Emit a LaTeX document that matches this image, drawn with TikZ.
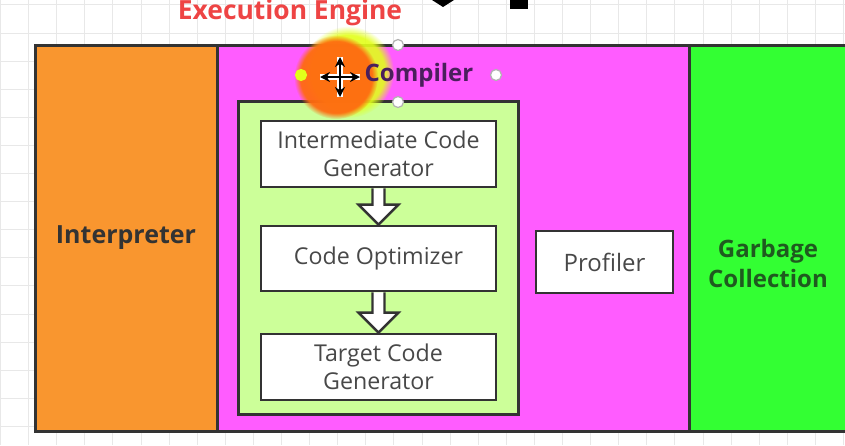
\documentclass[tikz,border=0pt]{standalone}
\usepackage{fontspec}
\setmainfont{Open Sans}
\usetikzlibrary{calc,arrows.meta,fadings}
\definecolor{frame}{HTML}{333333}
\definecolor{interp}{HTML}{F9962F}
\definecolor{engine}{HTML}{FF5CFF}
\definecolor{jitbox}{HTML}{CCFF99}
\definecolor{gcol}{HTML}{33FF33}
\definecolor{gridc}{HTML}{E8E8E8}
\definecolor{boxtext}{HTML}{484848}
\definecolor{titlered}{HTML}{EE4444}
\definecolor{comptext}{HTML}{4A1F5C}
\definecolor{gctext}{HTML}{1F5A1F}
\definecolor{glowyel}{HTML}{E2FF1A}
\definecolor{gloworg}{HTML}{FF6A10}
\begin{document}
\begin{tikzpicture}
    [x=0.5pt,y=-0.5pt,
     col/.style={draw=frame,line width=1.5pt,inner sep=0pt,minimum height=193pt},
     stage/.style={draw=frame,fill=white,line width=1.4pt,inner sep=0pt,align=center,
       text=boxtext,font=\fontsize{11.6}{14}\selectfont,minimum width=117.5pt,minimum height=33pt},
     hollow/.style={draw=frame,fill=white,line width=1.2pt,line join=miter},
     bold/.style={font=\bfseries\fontsize{12}{15}\selectfont},
     handle/.style={circle,draw=gray!60,fill=white,line width=0.6pt,minimum size=5.5pt,inner sep=0pt}]
    \useasboundingbox (0,0) rectangle (845,445);
    \clip (0,0) rectangle (845,445);
    % grid
    \foreach \i in {0,...,30}
      \draw[gridc,line width=0.5pt] (28.1*\i+0.5,0) -- (28.1*\i+0.5,445);
    \foreach \j in {0,...,16}
      \draw[gridc,line width=0.5pt] (0,28.1*\j+4.9) -- (845,28.1*\j+4.9);
    \fill (432,0) -- (443,7) -- (454,0) -- cycle;
    \fill (510,0) rectangle (528,9);
    % columns
    \node [col,fill=interp,minimum width=91pt,text=frame,font=\bfseries\fontsize{12.5}{15}\selectfont] (Int) at (126,238) {Interpreter};
    \node [col,fill=engine,minimum width=236pt] (EE) at (453,238) {};
    \node [col,fill=gcol,minimum width=90.5pt] (GC) at (779.5,238) {};
    \node [text=gctext,bold,align=center] (GCt) at (768,263) {Garbage\\Collection};
    \node [text=titlered,font=\bfseries\fontsize{13.2}{15}\selectfont] (EEt) at (290,13) {Execution Engine};
    % compiler
    \node [draw=frame,fill=jitbox,line width=1.5pt,minimum width=140pt,minimum height=156.5pt] (CC) at (378,257.5) {};
    \node [stage] (icg) at (378.5,154) {Intermediate Code\\Generator};
    \node [stage,minimum height=32.5pt] (opt) at (378.5,258.5) {Code Optimizer};
    \node [stage] (tcg) at (378.5,367) {Target Code\\Generator};
    \node [stage,minimum width=68.5pt,minimum height=31pt,font=\fontsize{12}{14}\selectfont] (prof) at (604.5,262) {Profiler};
    \foreach \a/\b in {icg/opt,opt/tcg}
      \draw [hollow] ($(\a.south)+(-6,0)$) -- ($(\b.north)+(-6,-20)$) -- ($(\b.north)+(-20,-20)$)
        -- (\b.north) -- ($(\b.north)+(20,-20)$) -- ($(\b.north)+(6,-20)$) -- ($(\a.south)+(6,0)$);
    % cursor glow
    \fill [glowyel,opacity=0.9,path fading=circle with fuzzy edge 20 percent] (348,72) circle (46);
    \fill [gloworg,opacity=0.95,path fading=circle with fuzzy edge 15 percent] (336,77) circle (42);
    \node [text=comptext,bold] (Comp) at (419,75) {Compiler};
    \node [handle] (hT) at (398,45) {};
    \node [handle] (hR) at (496,75) {};
    \node [handle] (hB) at (398,102) {};
    \node [handle,fill=glowyel,draw=glowyel] (hL) at (301,75) {};
    \coordinate (mv) at (340,77);
    \draw [white,line width=3pt] ($(mv)+(-20,0)$) -- ($(mv)+(20,0)$) ($(mv)+(0,-20)$) -- ($(mv)+(0,20)$);
    \draw [line width=1.3pt,{Stealth[length=5pt,width=5pt]}-{Stealth[length=5pt,width=5pt]}]
      ($(mv)+(-20,0)$) -- ($(mv)+(20,0)$);
    \draw [line width=1.3pt,{Stealth[length=5pt,width=5pt]}-{Stealth[length=5pt,width=5pt]}]
      ($(mv)+(0,-20)$) -- ($(mv)+(0,20)$);
  \end{tikzpicture}
\end{document}
